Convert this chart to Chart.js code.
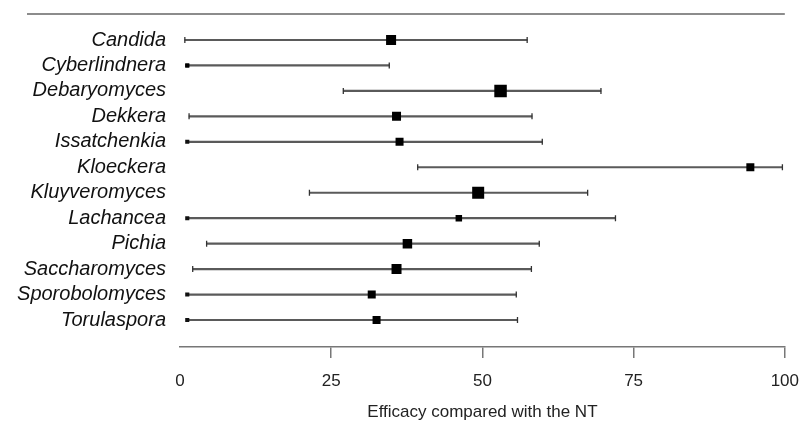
<!DOCTYPE html>
<html>
<head>
<meta charset="utf-8">
<script src="https://cdn.jsdelivr.net/npm/chart.js@4"></script>
<style>
  body { margin: 0; background: #fff; }
  #wrap { width: 799px; height: 425px; position: relative; }
</style>
</head>
<body>
<div id="wrap"><canvas id="forestChart"></canvas></div>
<script>
// Forest plot - efficacy per genus
const categories = ['Candida', 'Cyberlindnera', 'Debaryomyces', 'Dekkera', 'Issatchenkia', 'Kloeckera',
    'Kluyveromyces', 'Lachancea', 'Pichia', 'Saccharomyces', 'Sporobolomyces', 'Torulaspora'];
const efficacy = [34.9, 1.2, 53.0, 35.8, 36.3, 94.3, 49.3, 46.1, 37.6, 35.8, 31.7, 32.5];
const lower = [0.8, 1.2, 27.0, 1.5, 1.2, 39.3, 21.4, 1.2, 4.4, 2.1, 1.2, 1.2];
const upper = [57.4, 34.6, 69.6, 58.2, 59.9, 99.6, 67.4, 72.0, 59.4, 58.1, 55.6, 55.8];
const weights = [10, 4, 12.5, 9, 8, 8, 12, 6.5, 9.5, 10, 8, 8];
// lower bound cut at zero (drawn as a dot instead of a cap)
const clipped = [false, true, false, false, true, false, false, true, false, false, true, true];
const xTicks = [0, 25, 50, 75, 100];

const fontFamily = "'Liberation Sans', Arial, sans-serif";

// grey rule above the plot
const topRule = {
    id: 'topRule',
    afterDraw(chart) {
        const { ctx, chartArea } = chart;
        ctx.save();
        ctx.strokeStyle = '#8c8c8c';
        ctx.lineWidth = 2;
        ctx.beginPath();
        ctx.moveTo(27, chartArea.top);
        ctx.lineTo(chartArea.right, chartArea.top);
        ctx.stroke();
        ctx.restore();
    }
};

const capPoints = [];
categories.forEach(function(c, i) {
    capPoints.push({ x: lower[i], y: i, clipped: clipped[i] });
    capPoints.push({ x: upper[i], y: i, clipped: false });
});

new Chart(document.getElementById('forestChart').getContext('2d'), {
    type: 'bar',
    data: {
        datasets: [{
            type: 'line',
            label: 'Efficacy',
            data: efficacy.map((v, i) => ({ x: v, y: i })),
            showLine: false,
            pointStyle: 'rect',
            pointRadius: weights.map(w => w / 1.414),
            pointBorderWidth: 0,
            pointBackgroundColor: '#000',
            order: 1
        }, {
            type: 'line',
            label: 'Caps',
            data: capPoints,
            showLine: false,
            pointStyle: ctx => (ctx.raw && ctx.raw.clipped ? 'rect' : 'line'),
            rotation: ctx => (ctx.raw && ctx.raw.clipped ? 0 : 90),
            pointRadius: ctx => (ctx.raw && ctx.raw.clipped ? 2.9 : 3),
            pointBorderWidth: ctx => (ctx.raw && ctx.raw.clipped ? 0 : 1.3),
            pointBackgroundColor: '#111',
            pointBorderColor: '#333',
            order: 2
        }, {
            label: 'Interval',
            data: categories.map((c, i) => ({ x: [lower[i], upper[i]], y: i })),
            backgroundColor: '#5a5a5a',
            borderWidth: 0,
            barThickness: 1.5,
            order: 3
        }]
    },
    options: {
        indexAxis: 'y',
        responsive: true,
        maintainAspectRatio: false,
        animation: false,
        events: [],
        layout: { padding: { left: 13, right: 14, top: 14, bottom: 0 } },
        plugins: {
            legend: { display: false },
            tooltip: { enabled: false }
        },
        scales: {
            x: {
                type: 'linear',
                min: xTicks[0],
                max: xTicks[xTicks.length - 1],
                afterBuildTicks: s => { s.ticks = xTicks.map(v => ({ value: v })); },
                ticks: {
                    font: { family: fontFamily, size: 17, lineHeight: 2.8 },
                    color: '#222',
                    padding: 0,
                    maxRotation: 0
                },
                grid: {
                    drawOnChartArea: false,
                    tickLength: 11,
                    lineWidth: 1.5,
                    color: ctx => (ctx.index === 0 ? 'rgba(0,0,0,0)' : '#777')
                },
                border: { color: '#777', width: 1.5 },
                title: {
                    display: true,
                    text: 'Efficacy compared with the NT',
                    font: { family: fontFamily, size: 17 },
                    color: '#222',
                    padding: { top: 0, bottom: 2 }
                },
                afterFit: s => { s.height = 78; }
            },
            y: {
                type: 'linear',
                reverse: true,
                offset: false,
                min: -1.02,
                max: 12.06,
                grid: { display: false },
                border: { display: false },
                ticks: {
                    stepSize: 1,
                    autoSkip: false,
                    maxTicksLimit: 30,
                    padding: 6,
                    color: '#111',
                    font: { family: fontFamily, size: 20, style: 'italic', lineHeight: 0.8 },
                    callback: v => categories[v] || ''
                },
                afterFit: s => { s.width = 167; }
            }
        }
    },
    plugins: [topRule]
});
</script>
</body>
</html>
